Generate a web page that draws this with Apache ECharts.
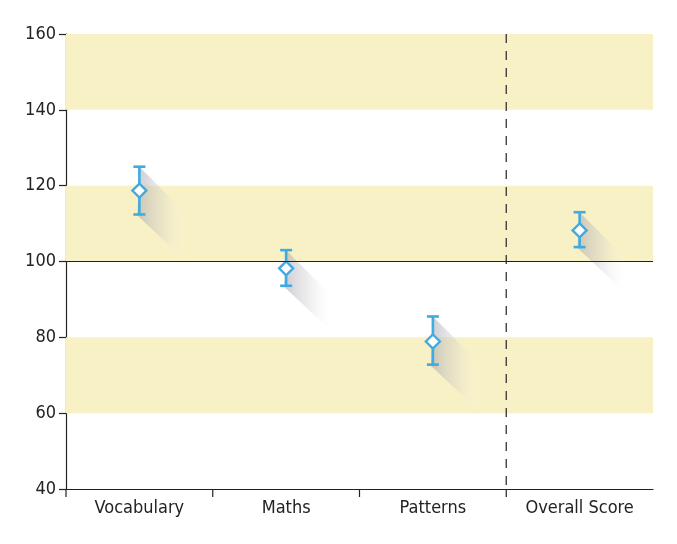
<!DOCTYPE html>
<html><head><meta charset="utf-8">
<script src="https://cdn.jsdelivr.net/npm/echarts@6/dist/echarts.min.js"></script>
<style>html,body{margin:0;padding:0;background:#fff}#c{width:677px;height:544px}</style>
</head><body><div id="c"></div>
<script>
const categories = ['Vocabulary', 'Maths', 'Patterns', 'Overall Score'];
const means = [118.7, 98.2, 78.9, 108.2];
const lows = [112.4, 93.6, 72.8, 103.8];
const highs = [125.0, 103.0, 85.5, 113.0];
const yTicks = [40, 60, 80, 100, 120, 140, 160];
const bands = [[60, 80], [100, 120], [140, 160]];
const refLine = 100;
const dividerBefore = 'Overall Score';

const FONT = "'DejaVu Sans Condensed', 'Liberation Sans', sans-serif";
const BLUE = '#3fabe1';
const AX = '#222';
const chart = echarts.init(document.getElementById('c'));
const errData = categories.map((c, i) => [i, means[i], lows[i], highs[i]]);

chart.setOption({
  animation: false,
  grid: {left: 66, right: 24, top: 34, bottom: 55},
  xAxis: {
    type: 'category', data: categories,
    axisLine: {lineStyle: {color: AX, width: 1.2}},
    axisTick: {show: false},
    axisLabel: {color: '#222', fontFamily: FONT, fontSize: 18, margin: 10},
    splitLine: {show: false}
  },
  yAxis: {
    type: 'value', min: yTicks[0], max: yTicks[yTicks.length - 1], interval: yTicks[1] - yTicks[0],
    axisLine: {show: true, lineStyle: {color: AX, width: 1.2}},
    axisTick: {show: true, length: 7, lineStyle: {color: AX, width: 1.2}},
    axisLabel: {color: '#222', fontFamily: FONT, fontSize: 18, margin: 10},
    splitLine: {show: false}
  },
  series: [
    {
      type: 'line', data: [], silent: true,
      markArea: {
        silent: true,
        itemStyle: {color: '#f9f1c6'},
        data: bands.map(b => [{yAxis: b[0]}, {yAxis: b[1]}])
      },
      markLine: {
        silent: true, symbol: 'none', label: {show: false},
        lineStyle: {color: AX, width: 1.2, type: 'solid'},
        data: [{yAxis: refLine}]
      }
    },
    {
      type: 'custom', silent: true,
      data: categories.map((c, i) => [i]),
      renderItem: function (params, api) {
        const c = api.coord([api.value(0), 40]);
        const bw = api.size([1, 0])[0];
        const x = c[0] - bw / 2;
        return {
          type: 'line',
          shape: {x1: x, y1: c[1], x2: x, y2: c[1] + 8},
          style: {stroke: AX, lineWidth: 1.2}
        };
      }
    },
    {
      type: 'custom', silent: true,
      data: [[categories.indexOf(dividerBefore)]],
      renderItem: function (params, api) {
        const c = api.coord([api.value(0), 160]);
        const bw = api.size([1, 0])[0];
        const x = c[0] - bw / 2;
        const bottom = api.coord([api.value(0), 40])[1];
        return {
          type: 'line',
          shape: {x1: x, y1: c[1], x2: x, y2: bottom},
          style: {stroke: '#333', lineWidth: 1.3, lineDash: [9, 8]}
        };
      }
    },
    {
      type: 'custom', silent: true,
      data: errData,
      renderItem: function (params, api) {
        const x = api.coord([api.value(0), api.value(1)])[0];
        const ym = api.coord([api.value(0), api.value(1)])[1];
        const yl = api.coord([api.value(0), api.value(2)])[1];
        const yh = api.coord([api.value(0), api.value(3)])[1];
        const d = 48, cw = 6, r = 7;
        return {
          type: 'group',
          children: [
            {
              type: 'polygon',
              shape: {points: [[x, yh], [x + d, yh + d], [x + d, yl + d], [x - 2, yl + 1]]},
              style: {
                fill: new echarts.graphic.LinearGradient(x, 0, x + d, 0, [
                  {offset: 0, color: 'rgba(160,160,170,0.5)'},
                  {offset: 0.45, color: 'rgba(190,190,198,0.28)'},
                  {offset: 1, color: 'rgba(255,255,255,0)'}
                ], true)
              }
            },
            {type: 'line', shape: {x1: x, y1: yh, x2: x, y2: yl}, style: {stroke: BLUE, lineWidth: 2.6}},
            {type: 'line', shape: {x1: x - cw, y1: yh, x2: x + cw, y2: yh}, style: {stroke: BLUE, lineWidth: 2.6}},
            {type: 'line', shape: {x1: x - cw, y1: yl, x2: x + cw, y2: yl}, style: {stroke: BLUE, lineWidth: 2.6}},
            {
              type: 'polygon',
              shape: {points: [[x, ym - r], [x + r, ym], [x, ym + r], [x - r, ym]]},
              style: {fill: '#fff', stroke: BLUE, lineWidth: 2.4}
            }
          ]
        };
      }
    }
  ]
});
</script></body></html>
